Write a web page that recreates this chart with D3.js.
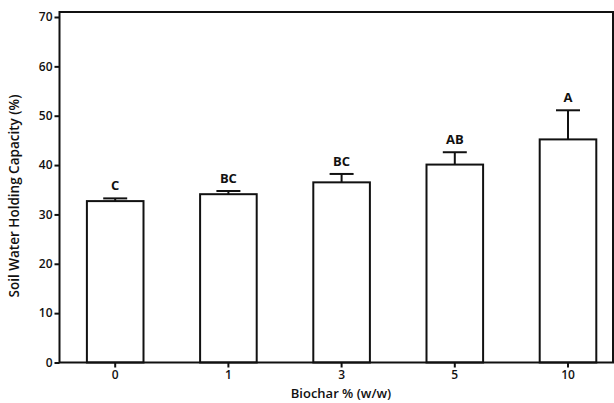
<!DOCTYPE html>
<html>
<head>
<meta charset="utf-8">
<script src="https://cdn.jsdelivr.net/npm/d3@7"></script>
<style>
  body { margin: 0; background: #fff; }
  text { font-family: "Open Sans", sans-serif; fill: #111; }
</style>
</head>
<body>
<div id="chart"></div>
<script>
const categories = ['0', '1', '3', '5', '10'];
const means = [32.7, 34.1, 36.5, 40.1, 45.2];
const errors = [0.55, 0.65, 1.7, 2.5, 5.9];
const letters = ['C', 'BC', 'BC', 'AB', 'A'];
const yTicks = [0, 10, 20, 30, 40, 50, 60, 70];

const width = 614;
const height = 403;
const plotLeft = 59.5, plotRight = 613, plotTop = 12, plotBottom = 362.5;

const svg = d3.select('#chart').append('svg')
  .attr('width', width)
  .attr('height', height);

const x = d3.scaleBand()
  .domain(categories)
  .range([58.6, 624.6])
  .paddingInner(0.5)
  .paddingOuter(0.25);

const y = d3.scaleLinear()
  .domain([0, 70])
  .range([plotBottom, 17]);

// bars
svg.append('g').selectAll('rect')
  .data(categories)
  .join('rect')
  .attr('x', d => x(d))
  .attr('y', (d, i) => y(means[i]))
  .attr('width', x.bandwidth())
  .attr('height', (d, i) => plotBottom - y(means[i]))
  .attr('fill', '#fff')
  .attr('stroke', '#111')
  .attr('stroke-width', 2);

// error bars
const err = svg.append('g').attr('stroke', '#111').attr('stroke-width', 2);
categories.forEach((d, i) => {
  const cx = x(d) + x.bandwidth() / 2;
  err.append('line')
    .attr('x1', cx).attr('x2', cx)
    .attr('y1', y(means[i])).attr('y2', y(means[i] + errors[i]));
  err.append('line')
    .attr('x1', cx - 12).attr('x2', cx + 12)
    .attr('y1', y(means[i] + errors[i])).attr('y2', y(means[i] + errors[i]));
});

// significance letters
svg.append('g').selectAll('text')
  .data(categories)
  .join('text')
  .attr('x', d => x(d) + x.bandwidth() / 2)
  .attr('y', (d, i) => y(means[i] + errors[i]) - 8)
  .attr('text-anchor', 'middle')
  .attr('font-size', 13)
  .attr('font-weight', 700)
  .text((d, i) => letters[i]);

// y axis
const yAxis = svg.append('g')
  .attr('transform', `translate(${plotLeft},0)`)
  .call(d3.axisLeft(y).tickValues(yTicks).tickSize(5).tickPadding(2));
yAxis.select('.domain').remove();
yAxis.selectAll('line').attr('stroke', '#111').attr('stroke-width', 2);
yAxis.selectAll('text')
  .attr('font-size', 12)
  .attr('font-weight', 600)
  .attr('font-family', '"Open Sans", sans-serif');

// x axis ticks
const xAxis = svg.append('g')
  .attr('transform', `translate(0,${plotBottom})`)
  .call(d3.axisBottom(x).tickSize(5).tickPadding(3));
xAxis.select('.domain').remove();
xAxis.selectAll('line').attr('stroke', '#111').attr('stroke-width', 2);
xAxis.selectAll('text')
  .attr('font-size', 12)
  .attr('font-weight', 600)
  .attr('font-family', '"Open Sans", sans-serif');

// frame
svg.append('path')
  .attr('d', `M${plotLeft},${plotTop}H${plotRight}V${plotBottom}H${plotLeft}Z`)
  .attr('fill', 'none')
  .attr('stroke', '#111')
  .attr('stroke-width', 2);

// titles
svg.append('text')
  .attr('x', 341)
  .attr('y', 398)
  .attr('text-anchor', 'middle')
  .attr('font-size', 13)
  .attr('font-weight', 600)
  .text('Biochar % (w/w)');

svg.append('text')
  .attr('transform', 'translate(19,196) rotate(-90)')
  .attr('text-anchor', 'middle')
  .attr('font-size', 13.5)
  .attr('font-weight', 600)
  .text('Soil Water Holding Capacity (%)');
</script>
</body>
</html>
